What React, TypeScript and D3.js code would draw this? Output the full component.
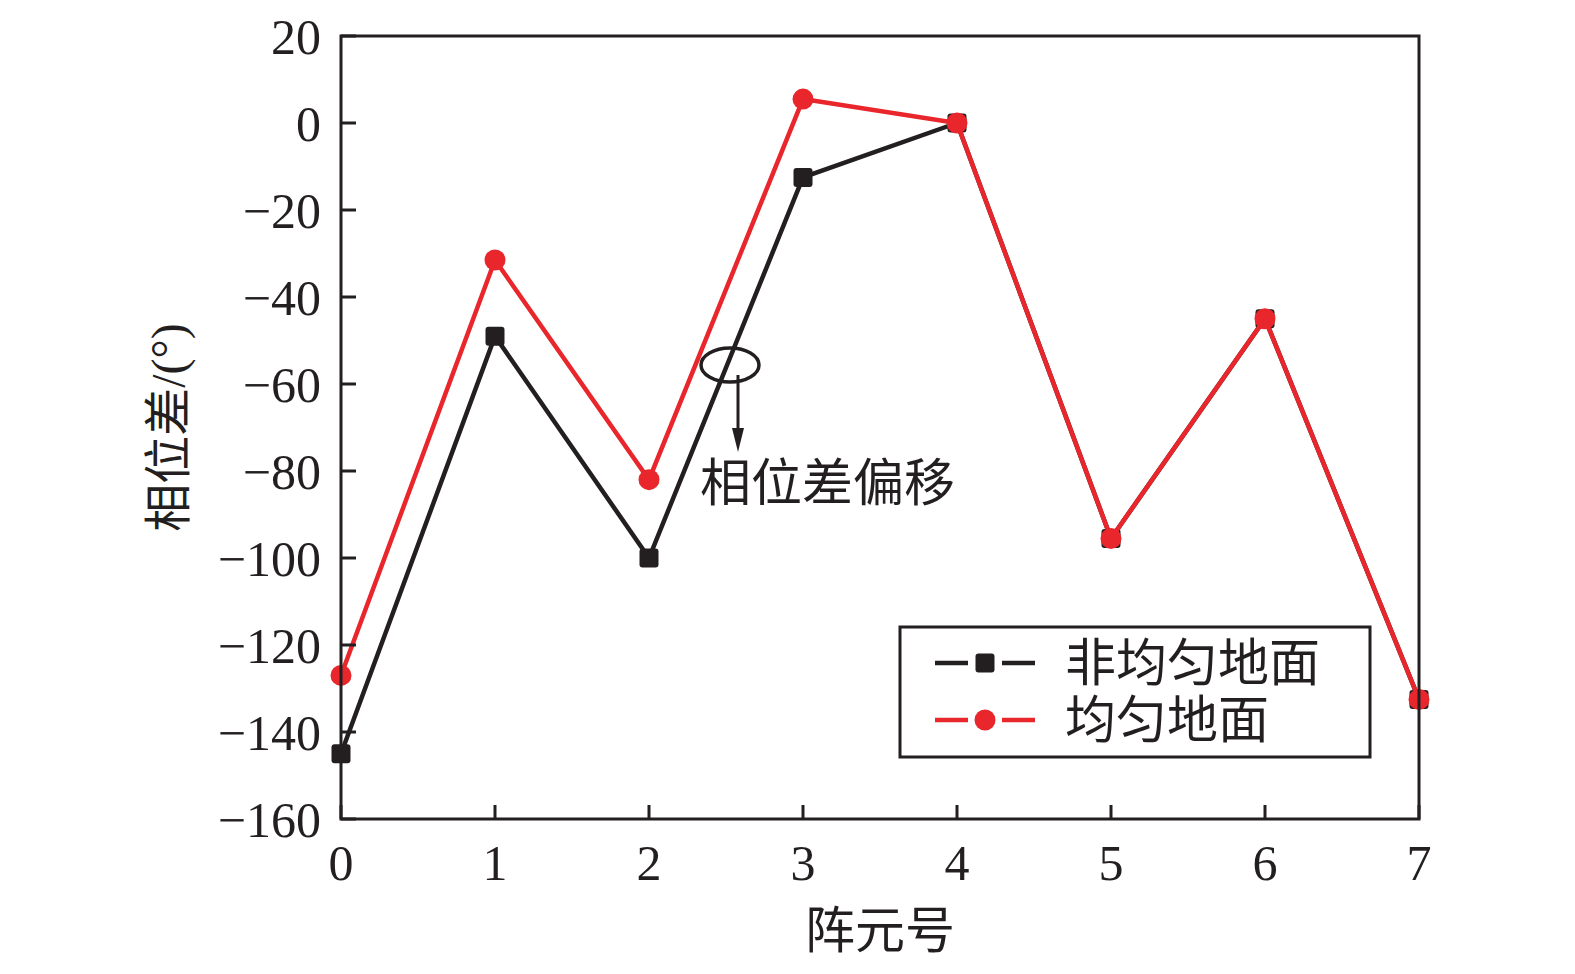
import React from "react";
import * as d3 from "d3";

const elements = [0, 1, 2, 3, 4, 5, 6, 7];
const nonUniform = [-145, -49, -100, -12.5, 0, -95.5, -45, -132.5];
const uniform = [-127, -31.5, -82, 5.5, 0, -95.5, -45, -132.5];
const yTicks = [20, 0, -20, -40, -60, -80, -100, -120, -140, -160];
const seriesNames = ["非均匀地面", "均匀地面"];

const BLACK = "#231f20";
const RED = "#e8262b";
const NUM_FONT = "'Liberation Serif', 'Times New Roman', serif";
const CJK_FONT = "'Liberation Serif', 'Noto Sans CJK SC', serif";

export default function App() {
  const W = 1575, H = 974;
  const left = 341, right = 1419, top = 36, bottom = 819;
  const x = d3.scaleLinear().domain([0, 7]).range([left, right]);
  const y = d3.scaleLinear().domain([-160, 20]).range([bottom, top]);
  const line = d3.line<number>().x((_, i) => x(elements[i])).y((d) => y(d));

  const sq = 19;
  return (
    <div style={{ position: "fixed", left: 0, top: 0, width: W, height: H, overflow: "hidden" }}>
      <svg width={W} height={H} style={{ display: "block", background: "#fff" }}>
        {/* lines */}
        <path d={line(nonUniform) || ""} fill="none" stroke={BLACK} strokeWidth={4.5} />
        {nonUniform.map((v, i) => (
          <rect key={"b" + i} x={x(elements[i]) - sq / 2} y={y(v) - sq / 2} width={sq} height={sq} rx={3} fill={BLACK} />
        ))}
        <path d={line(uniform) || ""} fill="none" stroke={RED} strokeWidth={4.5} />
        {uniform.map((v, i) => (
          <circle key={"r" + i} cx={x(elements[i])} cy={y(v)} r={10.5} fill={RED} />
        ))}
        {/* axes frame */}
        <rect x={left} y={top} width={right - left} height={bottom - top} fill="none" stroke={BLACK} strokeWidth={3} />
        {yTicks.map((t) => (
          <g key={"y" + t}>
            <line x1={left} x2={left + 15} y1={y(t)} y2={y(t)} stroke={BLACK} strokeWidth={3} />
            <text x={left - 20} y={y(t)} dy="0.35em" textAnchor="end" fontFamily={NUM_FONT} fontSize={50} fill={BLACK}>
              {t < 0 ? "\u2212" + Math.abs(t) : String(t)}
            </text>
          </g>
        ))}
        {elements.map((t) => (
          <g key={"x" + t}>
            <line x1={x(t)} x2={x(t)} y1={bottom} y2={bottom - 14} stroke={BLACK} strokeWidth={3} />
            <text x={x(t)} y={bottom + 61} textAnchor="middle" fontFamily={NUM_FONT} fontSize={50} fill={BLACK}>
              {t}
            </text>
          </g>
        ))}
        {/* axis titles */}
        <text transform={`translate(185, ${(top + bottom) / 2}) rotate(-90)`} textAnchor="middle" fontFamily={CJK_FONT} fontSize={48} fill={BLACK}>
          相位差/(°)
        </text>
        <text x={(left + right) / 2} y={948} textAnchor="middle" fontFamily={CJK_FONT} fontSize={50} fill={BLACK}>
          阵元号
        </text>
        {/* annotation */}
        <ellipse cx={730} cy={365} rx={29} ry={17} fill="none" stroke={BLACK} strokeWidth={3.5} />
        <line x1={738} y1={375} x2={738} y2={430} stroke={BLACK} strokeWidth={3} />
        <path d="M732,428 L744,428 L738,452 Z" fill={BLACK} />
        <text x={700} y={501} fontFamily={CJK_FONT} fontSize={51} fill={BLACK}>
          相位差偏移
        </text>
        {/* legend */}
        <rect x={900} y={627} width={470} height={130} fill="#fff" stroke={BLACK} strokeWidth={3} />
        {[0, 1].map((i) => {
          const cy = i === 0 ? 663 : 720;
          const col = i === 0 ? BLACK : RED;
          return (
            <g key={"l" + i}>
              <line x1={935} x2={968} y1={cy} y2={cy} stroke={col} strokeWidth={4.5} />
              <line x1={1002} x2={1035} y1={cy} y2={cy} stroke={col} strokeWidth={4.5} />
              {i === 0 ? (
                <rect x={985 - sq / 2} y={cy - sq / 2} width={sq} height={sq} rx={3} fill={col} />
              ) : (
                <circle cx={985} cy={cy} r={10.5} fill={col} />
              )}
              <text x={1065} y={cy} dy="0.36em" fontFamily={CJK_FONT} fontSize={51} fill={BLACK}>
                {seriesNames[i]}
              </text>
            </g>
          );
        })}
      </svg>
    </div>
  );
}
